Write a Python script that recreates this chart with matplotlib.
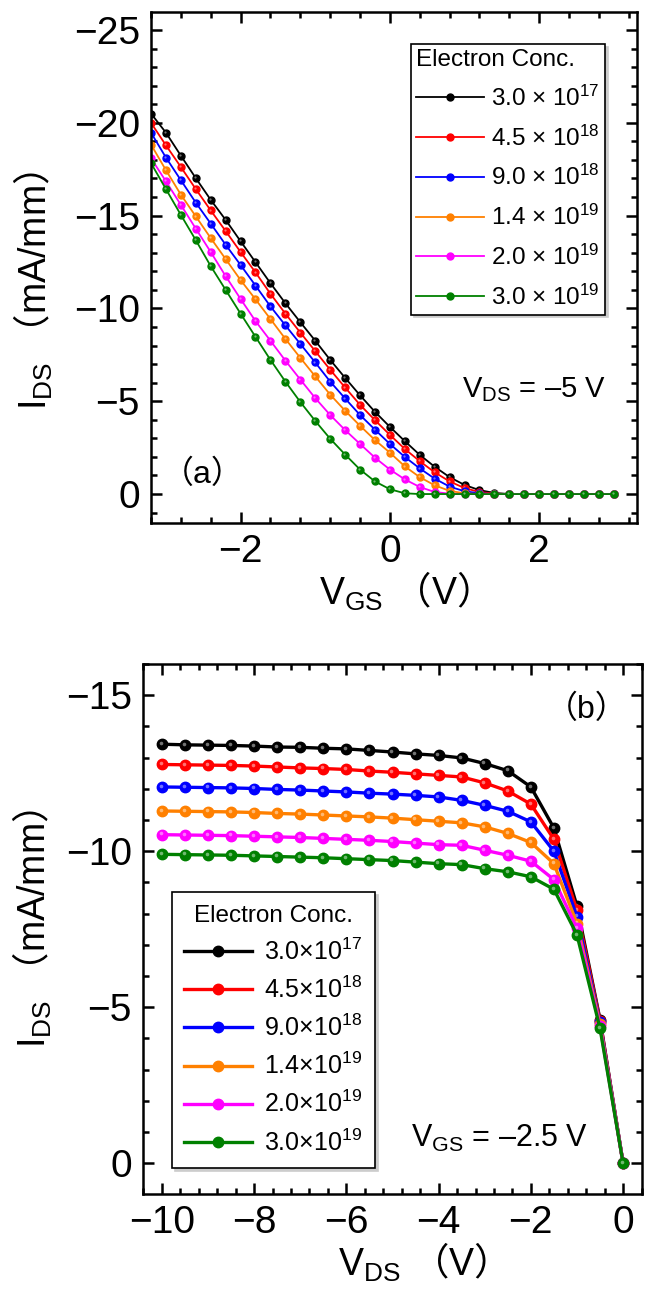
import matplotlib
matplotlib.use("Agg")
import matplotlib.pyplot as plt
from matplotlib.ticker import MultipleLocator
from matplotlib.transforms import offset_copy

plt.rcParams['font.family'] = ['Liberation Sans', 'Noto Sans CJK SC', 'DejaVu Sans']
plt.rcParams['mathtext.fontset'] = 'custom'
plt.rcParams['mathtext.rm'] = 'Liberation Sans'
plt.rcParams['mathtext.it'] = 'Liberation Sans'
plt.rcParams['mathtext.sf'] = 'Noto Sans CJK SC'
plt.rcParams['mathtext.default'] = 'regular'

# ---- data ----
concentrations = ["3.0", "4.5", "9.0", "1.4", "2.0", "3.0"]
exponents = ["17", "18", "18", "19", "19", "19"]
colors = ["#000000", "#ff0000", "#0000ff", "#ff8000", "#ff00ff", "#008000"]

# (a) transfer curves, V_DS = -5 V
vgs = [-3.2, -3.0, -2.8, -2.6, -2.4, -2.2, -2.0, -1.8, -1.6, -1.4, -1.2, -1.0,
       -0.8, -0.6, -0.4, -0.2, 0.0, 0.2, 0.4, 0.6, 0.8, 1.0, 1.2, 1.4,
       1.6, 1.8, 2.0, 2.2, 2.4, 2.6, 2.8, 3.0]
ids_a_1 = [-20.5, -19.47, -18.23, -17.02, -15.85, -14.77, -13.62, -12.49, -11.36, -10.28,
           -9.26, -8.26, -7.23, -6.26, -5.32, -4.43, -3.62, -2.85, -2.11, -1.47,
           -0.91, -0.49, -0.21, -0.06, 0, 0, 0, 0, 0, 0, 0, 0]
ids_a_2 = [-20.0, -18.79, -17.62, -16.43, -15.28, -14.17, -13.04, -11.94, -10.79, -9.72,
           -8.70, -7.70, -6.70, -5.74, -4.81, -3.98, -3.19, -2.43, -1.77, -1.17,
           -0.68, -0.32, -0.11, -0.02, 0, 0, 0, 0, 0, 0, 0, 0]
ids_a_3 = [-19.47, -18.13, -16.91, -15.70, -14.57, -13.43, -12.34, -11.23, -10.11, -9.09,
           -8.09, -7.09, -6.06, -5.15, -4.26, -3.47, -2.70, -2.00, -1.38, -0.83,
           -0.40, -0.15, -0.04, 0, 0, 0, 0, 0, 0, 0, 0, 0]
ids_a_4 = [-18.83, -17.45, -16.13, -14.96, -13.79, -12.66, -11.53, -10.49, -9.43, -8.36,
           -7.34, -6.34, -5.36, -4.49, -3.68, -2.91, -2.23, -1.49, -0.91, -0.47,
           -0.17, -0.04, 0, 0, 0, 0, 0, 0, 0, 0, 0, 0]
ids_a_5 = [-18.09, -16.85, -15.58, -14.30, -13.04, -11.74, -10.51, -9.32, -8.26, -7.19,
           -6.17, -5.17, -4.26, -3.45, -2.70, -1.96, -1.32, -0.79, -0.38, -0.11,
           -0.02, 0, 0, 0, 0, 0, 0, 0, 0, 0, 0, 0]
ids_a_6 = [-17.83, -16.43, -15.04, -13.68, -12.28, -11.0, -9.72, -8.47, -7.23, -6.06,
           -4.96, -3.94, -2.98, -2.13, -1.32, -0.68, -0.26, -0.04, 0, 0,
           0, 0, 0, 0, 0, 0, 0, 0, 0, 0, 0, 0]

# (b) output curves, V_GS = -2.5 V
vds = [-10.0, -9.5, -9.0, -8.5, -8.0, -7.5, -7.0, -6.5, -6.0, -5.5, -5.0,
       -4.5, -4.0, -3.5, -3.0, -2.5, -2.0, -1.5, -1.0, -0.5, 0.0]
ids_b_1 = [-13.43, -13.41, -13.40, -13.39, -13.37, -13.34, -13.33, -13.30, -13.28, -13.23,
           -13.18, -13.12, -13.07, -12.99, -12.81, -12.58, -12.06, -10.74, -8.24, -4.60, 0.0]
ids_b_2 = [-12.78, -12.77, -12.76, -12.75, -12.73, -12.70, -12.67, -12.65, -12.62, -12.57,
           -12.53, -12.48, -12.43, -12.38, -12.19, -11.93, -11.51, -10.38, -8.10, -4.57, 0.0]
ids_b_3 = [-12.06, -12.05, -12.04, -12.03, -12.01, -11.98, -11.96, -11.93, -11.90, -11.86,
           -11.83, -11.79, -11.74, -11.63, -11.47, -11.28, -10.94, -10.00, -7.90, -4.51, 0.0]
ids_b_4 = [-11.29, -11.28, -11.27, -11.26, -11.24, -11.21, -11.19, -11.16, -11.13, -11.10,
           -11.06, -11.01, -10.96, -10.91, -10.78, -10.57, -10.28, -9.60, -7.68, -4.46, 0.0]
ids_b_5 = [-10.53, -10.52, -10.51, -10.50, -10.48, -10.46, -10.44, -10.41, -10.38, -10.35,
           -10.31, -10.26, -10.21, -10.19, -10.03, -9.87, -9.68, -9.09, -7.53, -4.39, 0.0]
ids_b_6 = [-9.90, -9.89, -9.88, -9.87, -9.85, -9.83, -9.81, -9.79, -9.76, -9.73,
           -9.70, -9.65, -9.60, -9.57, -9.44, -9.34, -9.18, -8.78, -7.32, -4.32, 0.0]

ids_a = [ids_a_1, ids_a_2, ids_a_3, ids_a_4, ids_a_5, ids_a_6]
ids_b = [ids_b_1, ids_b_2, ids_b_3, ids_b_4, ids_b_5, ids_b_6]

fig = plt.figure(figsize=(6.59, 13.01), dpi=100)
ax1 = fig.add_axes([0.2291, 0.5980, 0.7375, 0.3928])
ax2 = fig.add_axes([0.2170, 0.0822, 0.7572, 0.4074])


def style_axes(ax):
    for s in ax.spines.values():
        s.set_linewidth(1.8)
    ax.tick_params(which='both', direction='in', top=True, right=True,
                   labelsize=28, width=1.8, pad=8)
    ax.tick_params(which='major', length=8)
    ax.tick_params(which='minor', length=4)


def highlight(ax, x, y, size, dx, dy, clip):
    # small glossy spot on the ball markers
    tr = offset_copy(ax.transData, fig=fig, x=dx, y=dy, units='points')
    ax.plot(x, y, 'o', ms=size, color='white', alpha=0.45, mew=0,
            transform=tr, clip_on=clip)


# ---- panel (a) ----
for ys, c, m, e in zip(ids_a, colors, concentrations, exponents):
    ax1.plot(vgs, ys, '-o', color=c, lw=1.3, ms=5, mec=c,
             label=m + " × 10$^{" + e + "}$")
    highlight(ax1, vgs, ys, 1.6, -0.6, 0.6, True)
ax1.set_xlim(-3.2, 3.31)
ax1.set_ylim(1.56, -25.97)
ax1.xaxis.set_major_locator(MultipleLocator(2))
ax1.xaxis.set_minor_locator(MultipleLocator(0.4))
ax1.yaxis.set_major_locator(MultipleLocator(5))
ax1.yaxis.set_minor_locator(MultipleLocator(1))
style_axes(ax1)
ax1.set_xlabel(r"V$_{GS}$ $\mathsf{（}$V$\mathsf{）}$", fontsize=27, labelpad=0)
ax1.set_ylabel(r"I$_{DS}$ $\mathsf{（}$mA/mm$\mathsf{）}$", fontsize=27)
ax1.yaxis.set_label_coords(-0.198, 0.454)
leg1 = ax1.legend(title="Electron Conc.", loc='upper right',
                  bbox_to_anchor=(0.934, 0.937), borderaxespad=0,
                  fontsize=17.5, title_fontsize=17.5, alignment='left',
                  handlelength=2.8, handletextpad=0.3, labelspacing=0.6,
                  borderpad=0.2, fancybox=False, framealpha=1,
                  edgecolor='black', shadow={'color': '0.8', 'alpha': 1})
leg1.get_frame().set_linewidth(1.2)
ax1.text(0.107, 0.094, "（a）", transform=ax1.transAxes, fontsize=23,
         ha='center', va='center')
ax1.text(0.936, 0.247, "V$_{DS}$ = –5 V", transform=ax1.transAxes,
         fontsize=21, ha='right', va='baseline')

# ---- panel (b) ----
for ys, c, m, e in zip(ids_b, colors, concentrations, exponents):
    ax2.plot(vds, ys, '-o', color=c, lw=2.4, ms=7.5, mec=c,
             label=m + "×10$^{" + e + "}$", clip_on=False)
    highlight(ax2, vds, ys, 2.6, -0.9, 0.9, False)
ax2.set_xlim(-10.41, 0.41)
ax2.set_ylim(0.99, -16.0)
ax2.xaxis.set_major_locator(MultipleLocator(2))
ax2.xaxis.set_minor_locator(MultipleLocator(0.4))
ax2.yaxis.set_major_locator(MultipleLocator(5))
ax2.yaxis.set_minor_locator(MultipleLocator(1))
style_axes(ax2)
ax2.set_xlabel(r"V$_{DS}$ $\mathsf{（}$V$\mathsf{）}$", fontsize=27, labelpad=0,
               x=0.54)
ax2.set_ylabel(r"I$_{DS}$ $\mathsf{（}$mA/mm$\mathsf{）}$", fontsize=27)
ax2.yaxis.set_label_coords(-0.178, 0.5)
leg2 = ax2.legend(title="Electron Conc.", loc='lower left',
                  bbox_to_anchor=(0.058, 0.049), borderaxespad=0,
                  fontsize=18, title_fontsize=17.5, alignment='center',
                  handlelength=2.7, handletextpad=0.5, labelspacing=0.47,
                  borderpad=0.5, fancybox=False, framealpha=1,
                  edgecolor='black', shadow={'color': '0.8', 'alpha': 1})
leg2.get_frame().set_linewidth(1.2)
ax2.text(0.89, 0.913, "（b）", transform=ax2.transAxes, fontsize=23,
         ha='center', va='center')
ax2.text(0.892, 0.089, "V$_{GS}$ = –2.5 V", transform=ax2.transAxes,
         fontsize=22, ha='right', va='baseline')

fig.savefig("out.png", dpi=100)
